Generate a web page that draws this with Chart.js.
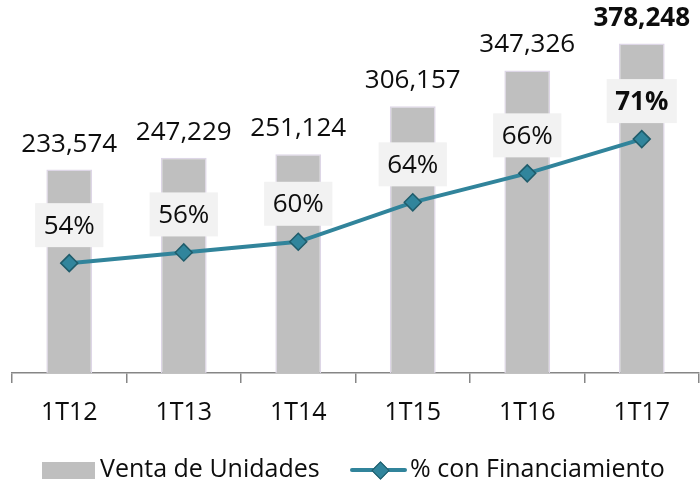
<!DOCTYPE html>
<html>
<head>
<meta charset="utf-8">
<script src="https://cdn.jsdelivr.net/npm/chart.js@4.4.1/dist/chart.umd.min.js"></script>
<style>
    body { margin: 0; background: #fff; font-family: 'Open Sans', sans-serif; }
    .wrap { position: relative; width: 700px; height: 482px; }
    .legend { position: absolute; left: 0; top: 452px; width: 700px; height: 30px; font-size: 25px; color: #0d0d0d; }
    .legend .item { position: absolute; top: 0; height: 30px; line-height: 30px; white-space: nowrap; }
    .legend .box { position: absolute; left: 42px; top: 10px; width: 53px; height: 17px; background: #bfbfbf; }
    .legend .ln { position: absolute; left: 350px; top: 16px; width: 57px; height: 4px; background: #31849b; border-radius: 2px; }
    .legend .dia { position: absolute; left: 374px; top: 12px; width: 11px; height: 11px; background: #31859c; border: 1.5px solid #1f5c6b; transform: rotate(45deg); }
</style>
</head>
<body>
<div class="wrap">
    <canvas id="salesChart"></canvas>
    <div class="legend">
        <div class="box"></div>
        <div class="item" style="left:100px">Venta de Unidades</div>
        <div class="ln"></div>
        <div class="dia"></div>
        <div class="item" style="left:410px">% con Financiamiento</div>
    </div>
</div>
<script>
// Datos
const periods = ['1T12', '1T13', '1T14', '1T15', '1T16', '1T17'];
const unitSales = [233574, 247229, 251124, 306157, 347326, 378248];
const financedPct = [54, 56, 60, 64, 66, 71];
// unidades financiadas (la linea se dibuja en la misma escala que las barras)
const financedUnits = [126130, 138448, 150674, 195940, 229235, 268556];

const textColor = '#0d0d0d';
const fontFamily = "'Open Sans', sans-serif";

const labelsPlugin = {
    id: 'valueLabels',
    afterDatasetsDraw(chart) {
        const ctx = chart.ctx;
        const bars = chart.getDatasetMeta(0).data;
        const points = chart.getDatasetMeta(1).data;
        const last = periods.length - 1;
        ctx.save();
        ctx.textAlign = 'center';
        ctx.textBaseline = 'alphabetic';
        ctx.fillStyle = textColor;
        bars.forEach((bar, i) => {
            ctx.font = `${i === last ? 'bold ' : ''}26px ${fontFamily}`;
            ctx.fillText(unitSales[i].toLocaleString('en-US'), bar.x, bar.y - 18);
        });
        points.forEach((pt, i) => {
            const text = financedPct[i] + '%';
            ctx.font = `${i === last ? 'bold ' : ''}26px ${fontFamily}`;
            const w = ctx.measureText(text).width + 17;
            const h = 44;
            const bottom = pt.y - 16;
            ctx.fillStyle = '#f2f2f2';
            ctx.fillRect(pt.x - w / 2, bottom - h, w, h);
            ctx.fillStyle = textColor;
            ctx.textBaseline = 'middle';
            ctx.fillText(text, pt.x, bottom - h / 2 + 1);
            ctx.textBaseline = 'alphabetic';
        });
        ctx.restore();
    }
};

document.addEventListener('DOMContentLoaded', function() {
    const ctx = document.getElementById('salesChart').getContext('2d');
    new Chart(ctx, {
        type: 'bar',
        data: {
            labels: periods,
            datasets: [
                {
                    type: 'bar',
                    label: 'Venta de Unidades',
                    data: unitSales,
                    backgroundColor: '#bfbfbf',
                    borderColor: '#ddd6e6',
                    borderWidth: 1.5,
                    barPercentage: 0.4,
                    categoryPercentage: 1,
                    order: 2
                },
                {
                    type: 'line',
                    label: '% con Financiamiento',
                    data: financedUnits,
                    borderColor: '#31849b',
                    borderWidth: 4,
                    tension: 0,
                    pointStyle: 'rectRot',
                    pointRadius: 8.5,
                    pointBackgroundColor: '#31859c',
                    pointBorderColor: '#1f5c6b',
                    pointBorderWidth: 1.5,
                    order: 1
                }
            ]
        },
        options: {
            responsive: true,
            maintainAspectRatio: false,
            animation: false,
            layout: { autoPadding: false, padding: { left: 12, right: 1, top: 20, bottom: 39 } },
            plugins: { legend: { display: false }, tooltip: { enabled: false } },
            scales: {
                x: {
                    grid: { display: true, drawOnChartArea: false, tickLength: 10, color: '#868686', lineWidth: 1.5, offset: true },
                    border: { display: true, color: '#868686', width: 1.5 },
                    ticks: { color: textColor, padding: 15, font: { family: fontFamily, size: 25 } }
                },
                y: { display: false, min: 0, max: 405300 }
            }
        },
        plugins: [labelsPlugin]
    });
});
</script>
</body>
</html>
